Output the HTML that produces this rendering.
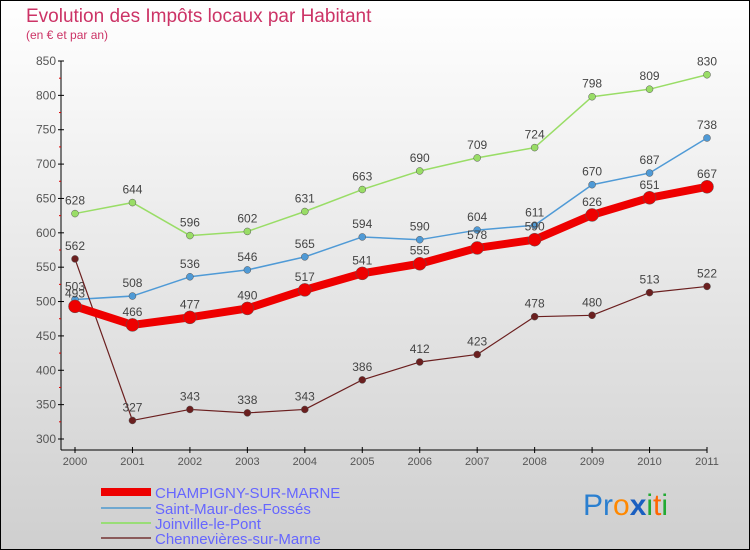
<!DOCTYPE html>
<html><head><meta charset="utf-8"><style>
body{margin:0}
svg{display:block;font-family:"Liberation Sans",sans-serif}
</style></head><body>
<svg id="c" width="750" height="550">
<defs><linearGradient id="bg" x1="0" y1="0" x2="0" y2="1"><stop offset="0" stop-color="#ffffff"/><stop offset="1" stop-color="#cfcfcf"/></linearGradient></defs>
<rect x="0.5" y="0.5" width="749" height="549" fill="url(#bg)" stroke="#000"/>
<text x="26" y="22" font-size="19" fill="#cc3366">Evolution des Impôts locaux par Habitant</text>
<text x="26" y="39" font-size="12" fill="#cc3366">(en € et par an)</text>
<g id="axes"></g><g id="series"></g>
<g>
<rect x="101" y="488" width="50" height="8" fill="#ee0000"/>
<text x="155" y="498" font-size="15" fill="#6666ff">CHAMPIGNY-SUR-MARNE</text>
<line x1="101" y1="508" x2="151" y2="508" stroke="#6fa8d0" stroke-width="2"/>
<text x="155" y="514" font-size="15" fill="#6666ff">Saint-Maur-des-Fossés</text>
<line x1="101" y1="523" x2="151" y2="523" stroke="#99dd77" stroke-width="2"/>
<text x="155" y="529" font-size="15" fill="#6666ff">Joinville-le-Pont</text>
<line x1="101" y1="538" x2="151" y2="538" stroke="#8a5a5a" stroke-width="2"/>
<text x="155" y="544" font-size="15" fill="#6666ff">Chennevières-sur-Marne</text>
</g>
<text x="583" y="515" font-size="30"><tspan fill="#2a7fd0">Pr</tspan><tspan fill="#ff8800">o</tspan><tspan fill="#1a5fc0" font-weight="bold">x</tspan><tspan fill="#22aa33">i</tspan><tspan fill="#ff6600">t</tspan><tspan fill="#22aa33">i</tspan></text>
</svg>
<script>
const years=[2000,2001,2002,2003,2004,2005,2006,2007,2008,2009,2010,2011];
const yTicks=[300,350,400,450,500,550,600,650,700,750,800,850];
const champigny=[493,466,477,490,517,541,555,578,590,626,651,667];
const saintMaur=[503,508,536,546,565,594,590,604,611,670,687,738];
const joinville=[628,644,596,602,631,663,690,709,724,798,809,830];
const chennevieres=[562,327,343,338,343,386,412,423,478,480,513,522];
const NS='http://www.w3.org/2000/svg';
const X=i=>75+i*(707-75)/11;
const Y=v=>439-(v-300)*(439-61)/550;
function mk(t,a,p){const e=document.createElementNS(NS,t);for(const k in a)e.setAttribute(k,a[k]);p.appendChild(e);return e;}
const ax=document.getElementById('axes');
const yl=mk('line',{x1:61,y1:61,x2:61,y2:450,stroke:'#000'},ax);


const xl=mk('line',{x1:61,y1:450,x2:707,y2:450,stroke:'#000'},ax);


yTicks.forEach(v=>{
  mk('line',{x1:58,x2:64,y1:Y(v),y2:Y(v),stroke:'#000'},ax);
  if(v<850)mk('line',{x1:59,x2:61,y1:Y(v+25),y2:Y(v+25),stroke:'#d00'},ax);
  const t=mk('text',{x:56,y:Y(v)+4,'text-anchor':'end','font-size':12,fill:'#555'},ax);
  
  
  t.textContent=v;
});
years.forEach((y,i)=>{
  mk('line',{x1:X(i),x2:X(i),y1:447,y2:453,stroke:'#000'},ax);
  const t=mk('text',{x:X(i),y:465,'text-anchor':'middle','font-size':11,fill:'#555'},ax);
  
  
  t.textContent=y;
});
const sg=document.getElementById('series');
function series(data,color,w,r,name){
  const g=mk('g',{},sg);
  
  
  mk('polyline',{points:data.map((v,i)=>X(i)+','+Y(v)).join(' '),fill:'none',stroke:color,'stroke-width':w,'stroke-linejoin':'round'},g);
  data.forEach((v,i)=>{
    const c=mk('circle',{cx:X(i),cy:Y(v),r:r,fill:color,stroke:'#555','stroke-width':0.5},g);
    
    
    const t=mk('text',{x:X(i),y:Y(v)-9,'text-anchor':'middle','font-size':12,fill:'#444'},g);
    
    
    t.textContent=v;
  });
}
series(joinville,'#99dd66',1.5,3.5,'series-joinville');
series(saintMaur,'#4f9ad6',1.5,3.5,'series-saint-maur');
series(chennevieres,'#6b1f1f',1.2,3.5,'series-chennevieres');
series(champigny,'#ee0000',8,6.5,'series-champigny');
</script>
</body></html>
